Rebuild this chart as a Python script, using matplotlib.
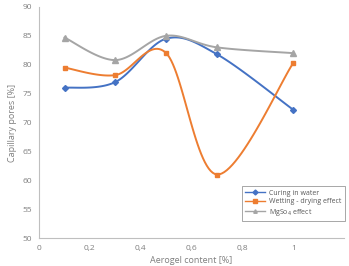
import numpy as np
import matplotlib.pyplot as plt

aerogel = [0.1, 0.3, 0.5, 0.7, 1.0]
curing_water = [76.0, 77.0, 84.5, 81.8, 72.2]
wetting_drying = [79.5, 78.2, 82.0, 61.0, 80.3]
mgso4 = [84.7, 80.8, 85.0, 83.0, 82.0]

x_ticks = [0, 0.2, 0.4, 0.6, 0.8, 1]
x_labels = ["0", "0,2", "0,4", "0,6", "0,8", "1"]
y_ticks = list(range(50, 95, 5))


def smooth(x, y, n=30):
    # Excel-like smoothing: cubic Bezier segments between points
    x = np.asarray(x, float)
    y = np.asarray(y, float)
    xs, ys = [], []
    for i in range(len(x) - 1):
        p0 = np.array([x[max(i - 1, 0)], y[max(i - 1, 0)]])
        p1 = np.array([x[i], y[i]])
        p2 = np.array([x[i + 1], y[i + 1]])
        p3 = np.array([x[min(i + 2, len(x) - 1)], y[min(i + 2, len(x) - 1)]])
        c1 = p1 + (p2 - p0) / 6
        c2 = p2 - (p3 - p1) / 6
        t = np.linspace(0, 1, n)[:, None]
        pts = ((1 - t) ** 3) * p1 + 3 * ((1 - t) ** 2) * t * c1 + 3 * (1 - t) * t ** 2 * c2 + t ** 3 * p2
        xs.extend(pts[:, 0])
        ys.extend(pts[:, 1])
    return xs, ys


plt.rcParams["font.family"] = ["Open Sans", "DejaVu Sans"]

fig = plt.figure(figsize=(3.49, 2.66), dpi=100)
ax = fig.add_axes([0.112, 0.105, 0.874, 0.869])

series = [
    (curing_water, "#4472C4", "D", 3.0, "Curing in water"),
    (wetting_drying, "#ED7D31", "s", 3.5, "Wetting - drying effect"),
    (mgso4, "#A5A5A5", "^", 3.8, "MgSo$_4$ effect"),
]
handles = []
for vals, col, mk, ms, lab in series:
    sx, sy = smooth(aerogel, vals)
    ax.plot(sx, sy, color=col, lw=1.4)
    ax.plot(aerogel, vals, ls="none", marker=mk, ms=ms, color=col)
    h, = ax.plot([], [], color=col, lw=1.0, marker=mk, ms=2.5, label=lab)
    handles.append(h)

ax.set_xlim(0, 1.2)
ax.set_ylim(50, 90)
ax.set_xticks(x_ticks)
ax.set_xticklabels(x_labels)
ax.set_yticks(y_ticks)
ax.tick_params(length=0, labelsize=6, colors="#7f7f7f", pad=5)
for s in ["top", "right"]:
    ax.spines[s].set_visible(False)
for s in ["left", "bottom"]:
    ax.spines[s].set_color("#bfbfbf")
    ax.spines[s].set_linewidth(0.8)

ax.set_ylabel("Capillary pores [%]", fontsize=6.5, color="#7f7f7f", labelpad=4)
ax.set_xlabel("Aerogel content [%]", fontsize=6.5, color="#7f7f7f", labelpad=3)

leg = ax.legend(handles=handles, loc="lower left", bbox_to_anchor=(0.655, 0.06),
                fontsize=5, frameon=True, fancybox=False, edgecolor="#7f7f7f",
                handlelength=2.8, handletextpad=0.6, borderpad=0.45,
                labelspacing=0.22)
leg.get_frame().set_linewidth(0.6)
for t in leg.get_texts():
    t.set_color("#595959")

fig.savefig("out.png", dpi=100)
